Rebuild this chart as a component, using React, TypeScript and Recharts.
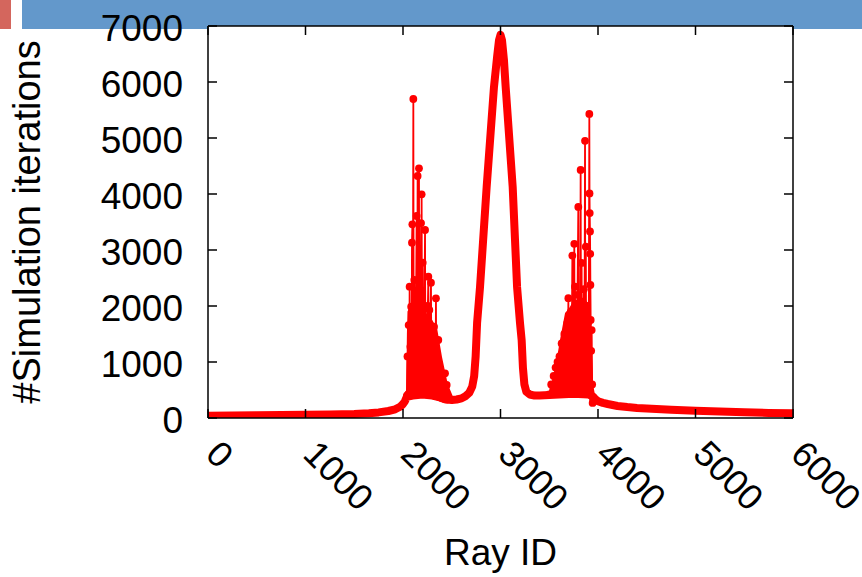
import { ComposedChart, Line, Area, XAxis, YAxis, CartesianGrid, ReferenceLine } from 'recharts'

// smooth envelope of the curve
const baseRay = [0, 250, 500, 750, 1000, 1250, 1500, 1650, 1750, 1850, 1920, 1970, 2000, 2020, 2040, 2100, 2200, 2300, 2400, 2460, 2500, 2550, 2600, 2640, 2680, 2710, 2730, 2745, 2760, 2790, 2858, 2933, 2965, 2985, 3000, 3015, 3035, 3053, 3125, 3170, 3200, 3217, 3230, 3245, 3265, 3300, 3350, 3400, 3450, 3500, 3600, 3700, 3800, 3900, 3950, 3970, 4000, 4050, 4100, 4200, 4300, 4400, 4500, 4750, 5000, 5250, 5500, 5750, 6000]
const baseIters = [40, 44, 48, 52, 56, 62, 72, 85, 100, 125, 155, 200, 250, 300, 380, 400, 420, 400, 360, 330, 320, 330, 350, 390, 450, 560, 750, 1100, 1700, 2340, 4125, 5910, 6450, 6750, 6840, 6750, 6400, 5910, 4125, 2340, 1700, 1390, 900, 600, 470, 420, 400, 400, 405, 410, 420, 430, 430, 420, 380, 340, 300, 270, 250, 215, 195, 180, 170, 148, 130, 115, 101, 91, 83]

// solid red mass at the foot of each noisy cluster (lower / upper edge)
const leftMassRay = [2032, 2040, 2046, 2100, 2200, 2300, 2350, 2400, 2450, 2480, 2513]
const leftMassTop = [380, 1500, 1900, 2100, 1950, 1750, 1600, 1090, 680, 520, 380]
const leftMassBottom = [300, 330, 350, 360, 360, 340, 320, 300, 290, 290, 290]

const rightMassRay = [3480, 3508, 3576, 3610, 3662, 3700, 3750, 3850, 3925, 3935, 3950, 3970]
const rightMassTop = [420, 500, 1036, 1393, 1875, 1950, 2100, 2150, 2000, 1200, 600, 400]
const rightMassBottom = [380, 380, 380, 380, 380, 380, 380, 380, 380, 360, 340, 320]

// noisy cluster left of the main peak
const leftRay = [2040, 2046, 2052, 2058, 2064, 2068, 2072, 2076, 2080, 2084, 2088, 2092, 2096, 2100, 2106, 2110, 2116, 2120, 2124, 2128, 2134, 2140, 2144, 2150, 2154, 2158, 2164, 2168, 2174, 2178, 2185, 2188, 2191, 2196, 2202, 2206, 2212, 2216, 2220, 2226, 2230, 2236, 2240, 2246, 2250, 2255, 2260, 2264, 2270, 2275, 2280, 2287, 2292, 2298, 2304, 2310, 2318, 2322, 2328, 2333, 2338, 2342, 2348, 2354, 2362, 2366, 2372, 2378, 2386, 2392, 2400, 2408, 2416, 2424, 2431, 2438, 2448, 2456]
const leftIters = [400, 1100, 420, 1660, 450, 2345, 480, 1274, 500, 1988, 450, 3131, 3458, 500, 5696, 520, 2464, 450, 1500, 550, 2100, 3607, 500, 4321, 600, 1700, 4458, 500, 1900, 600, 3480, 550, 3994, 600, 2774, 500, 1500, 600, 2000, 3357, 550, 1800, 500, 1400, 550, 2000, 2524, 500, 1929, 480, 1300, 2417, 480, 1200, 450, 1000, 1631, 450, 1100, 430, 2137, 420, 900, 400, 1393, 380, 850, 370, 700, 360, 650, 350, 600, 340, 798, 330, 589, 330]

// noisy cluster right of the main peak
const rightRay = [3500, 3520, 3530, 3545, 3555, 3565, 3575, 3585, 3595, 3605, 3615, 3627, 3633, 3640, 3648, 3655, 3662, 3670, 3678, 3685, 3690, 3696, 3702, 3710, 3716, 3722, 3728, 3737, 3742, 3750, 3757, 3760, 3764, 3770, 3778, 3784, 3790, 3798, 3802, 3810, 3816, 3822, 3826, 3832, 3836, 3842, 3848, 3855, 3860, 3867, 3870, 3875, 3880, 3886, 3892, 3898, 3904, 3911, 3913, 3915, 3918, 3920, 3922, 3925, 3930, 3935, 3940, 3945, 3950]
const rightIters = [420, 600, 430, 750, 440, 900, 450, 1000, 460, 1100, 470, 1330, 480, 1200, 500, 1500, 480, 1300, 520, 1700, 500, 2140, 550, 1600, 500, 1900, 550, 2900, 500, 1800, 3110, 550, 2345, 600, 2000, 550, 2200, 3770, 600, 1900, 550, 4430, 600, 2770, 550, 2000, 600, 2300, 550, 4950, 600, 3060, 550, 2000, 500, 1700, 480, 5430, 4010, 3660, 3330, 2930, 2375, 1750, 1200, 1570, 600, 270, 330]

const xTicks = [0, 1000, 2000, 3000, 4000, 5000, 6000]
const yTicks = [0, 1000, 2000, 3000, 4000, 5000, 6000, 7000]

const toRows = (xs: number[], ys: number[]) => xs.map((x, i) => ({ x, v: ys[i] }))
const toRange = (xs: number[], lo: number[], hi: number[]) => xs.map((x, i) => ({ x, v: [lo[i], hi[i]] }))
const baseData = toRows(baseRay, baseIters)
const leftData = toRows(leftRay, leftIters)
const rightData = toRows(rightRay, rightIters)
const leftMass = toRange(leftMassRay, leftMassBottom, leftMassTop)
const rightMass = toRange(rightMassRay, rightMassBottom, rightMassTop)

const PLOT_W = 585
const PLOT_H = 392
const FONT = "'Liberation Sans', Arial, Helvetica, sans-serif"
const RED = '#ff0000'

function XTick({ x, y, payload }: any) {
  const tx = x - 4
  const ty = y + 38
  return (
    <g>
      <line x1={x} y1={y} x2={x} y2={y - 9} stroke="#000" strokeWidth={1.5} />
      <line x1={x} y1={y - PLOT_H} x2={x} y2={y - PLOT_H + 9} stroke="#000" strokeWidth={1.5} />
      <text x={tx} y={ty} transform={`rotate(45 ${tx} ${ty})`} fontSize={36} fontFamily={FONT} fill="#000">
        {payload.value}
      </text>
    </g>
  )
}

function YTick({ x, y, payload }: any) {
  return (
    <g>
      <line x1={x} y1={y} x2={x + 9} y2={y} stroke="#000" strokeWidth={1.5} />
      <line x1={x + PLOT_W} y1={y} x2={x + PLOT_W - 9} y2={y} stroke="#000" strokeWidth={1.5} />
      <text x={x - 25} y={y + 15} textAnchor="end" fontSize={37} fontFamily={FONT} fill="#000">
        {payload.value}
      </text>
    </g>
  )
}

export default function App() {
  const spikeDot = { r: 3.9, fill: RED, stroke: 'none', strokeWidth: 0 }
  return (
    <div style={{ position: 'absolute', left: 0, top: 0, width: 862, height: 577, background: '#fff' }}>
      <div style={{ position: 'absolute', left: 0, top: 0, width: 11, height: 29, background: '#d4665d' }} />
      <div style={{ position: 'absolute', left: 22, top: 0, width: 840, height: 29, background: '#6398cb' }} />
      <div style={{ position: 'absolute', left: 0, top: 0 }}>
        <ComposedChart width={862} height={577} margin={{ top: 26, right: 69, bottom: 0, left: 0 }}>
          <CartesianGrid fill="#fff" stroke="none" horizontal={false} vertical={false} />
          <XAxis
            dataKey="x"
            type="number"
            domain={[0, 6000]}
            ticks={xTicks}
            interval={0}
            height={159}
            tickSize={0}
            tickMargin={0}
            tickLine={false}
            axisLine={{ stroke: '#000', strokeWidth: 1.5 }}
            tick={XTick}
            allowDataOverflow
            label={{ value: 'Ray ID', position: 'insideBottom', offset: 12, fontSize: 37, fontFamily: FONT, fill: '#000' }}
          />
          <YAxis
            type="number"
            domain={[0, 7000]}
            ticks={yTicks}
            interval={0}
            width={208}
            tickSize={0}
            tickMargin={0}
            tickLine={false}
            axisLine={{ stroke: '#000', strokeWidth: 1.5 }}
            tick={YTick}
            allowDataOverflow
            label={{
              content: () => (
                <text x={40} y={222} transform="rotate(-90 40 222)" textAnchor="middle" fontSize={38} fontFamily={FONT} fill="#000">
                  #Simulation iterations
                </text>
              ),
            }}
          />
          <ReferenceLine y={7000} stroke="#000" strokeWidth={1.5} />
          <ReferenceLine x={6000} stroke="#000" strokeWidth={1.5} />
          <Area data={leftMass} dataKey="v" type="linear" fill={RED} fillOpacity={1} stroke="none" dot={false} activeDot={false} isAnimationActive={false} />
          <Area data={rightMass} dataKey="v" type="linear" fill={RED} fillOpacity={1} stroke="none" dot={false} activeDot={false} isAnimationActive={false} />
          <Line data={baseData} dataKey="v" type="linear" stroke={RED} strokeWidth={8} strokeLinecap="round" strokeLinejoin="round" dot={false} activeDot={false} isAnimationActive={false} />
          <Line data={leftData} dataKey="v" type="linear" stroke={RED} strokeWidth={1.8} dot={spikeDot} activeDot={false} isAnimationActive={false} />
          <Line data={rightData} dataKey="v" type="linear" stroke={RED} strokeWidth={1.8} dot={spikeDot} activeDot={false} isAnimationActive={false} />
        </ComposedChart>
      </div>
    </div>
  )
}
